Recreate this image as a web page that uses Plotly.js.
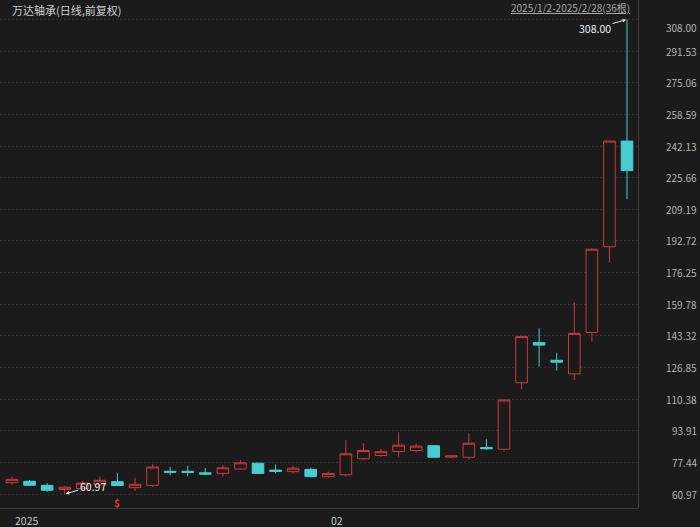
<!DOCTYPE html>
<html><head><meta charset="utf-8">
<script src="https://cdn.plot.ly/plotly-3.0.1.min.js"></script>
<style>html,body{margin:0;padding:0;background:#1b1b1b;}#chart{width:700px;height:527px;}</style>
</head><body><div id="chart"></div>
<script>
const dates = ['2025-01-02','2025-01-03','2025-01-06','2025-01-07','2025-01-08','2025-01-09','2025-01-10','2025-01-13','2025-01-14','2025-01-15','2025-01-16','2025-01-17','2025-01-20','2025-01-21','2025-01-22','2025-01-23','2025-01-24','2025-01-27',
'2025-02-05','2025-02-06','2025-02-07','2025-02-10','2025-02-11','2025-02-12','2025-02-13','2025-02-14','2025-02-17','2025-02-18','2025-02-19','2025-02-20','2025-02-21','2025-02-24','2025-02-25','2025-02-26','2025-02-27','2025-02-28'];
const openV  = [66.9,67.6,65.5,63.3,63.8,65.8,67.4,64.3,65.5,72.8,72.8,72.0,71.7,74.0,77.0,73.4,72.6,73.8,70.0,71.0,79.3,81.0,83.1,83.6,86.1,80.2,80.1,85.2,84.3,118.9,139.8,130.6,123.5,145.0,189.7,244.7];
const highV  = [70.0,68.2,66.6,65.2,67.8,70.0,71.8,69.5,76.4,75.0,75.6,74.5,76.0,78.7,77.2,76.4,75.6,74.6,72.6,89.1,87.4,84.6,93.1,87.3,86.2,81.2,92.6,89.4,110.2,143.3,147.2,134.5,160.6,188.8,245.0,308.0];
const lowV   = [65.7,65.3,62.1,60.97,62.8,65.0,65.3,62.5,64.6,70.7,70.3,70.9,70.0,73.5,71.5,71.7,71.5,69.6,69.3,70.0,78.8,80.4,80.4,82.6,80.0,79.6,79.0,84.0,83.0,115.5,127.3,125.2,120.3,140.3,181.4,214.4];
const closeV = [68.6,65.5,62.9,64.5,66.6,68.1,65.4,66.0,75.0,72.3,72.2,71.3,74.6,77.2,71.7,72.7,74.4,70.0,71.6,81.9,83.6,83.0,86.4,85.9,80.1,80.8,87.4,84.5,109.9,142.9,138.5,129.6,144.6,188.4,244.7,229.3];
const yTickLabels = ['60.97','77.44','93.91','110.38','126.85','143.32','159.78','176.25','192.72','209.19','225.66','242.13','258.59','275.06','291.53','308.00'];
const xLabelDates = ['2025-01-02','2025-02-05'];
const xLabelTexts = ['2025','02'];
const titleText = '万达轴承(日线,前复权)';
const rangeText = '2025/1/2-2025/2/28(36根)';
const signalDate = '2025-01-10';
const signalText = '$';

const BG = '#1b1b1b', RED = '#d0393e', CYAN = '#47cdd2';
const FONT = 'Noto Sans CJK SC, Noto Sans, sans-serif';
const tickVals = yTickLabels.map(parseFloat);

const hi = Math.max(...highV), lo = Math.min(...lowV);
const hiIdx = highV.indexOf(hi), loIdx = lowV.indexOf(lo);

const trace = {
  type: 'candlestick', x: dates, open: openV, high: highV, low: lowV, close: closeV,
  increasing: {line: {color: RED, width: 1}, fillcolor: BG},
  decreasing: {line: {color: CYAN, width: 1}, fillcolor: CYAN},
  whiskerwidth: 0, hoverinfo: 'x+y', showlegend: false
};

const anns = [];
yTickLabels.forEach((t, i) => {
  anns.push({xref: 'paper', x: 699/638, xanchor: 'right', yref: 'y', y: tickVals[i],
    yshift: i === yTickLabels.length - 1 ? -8 : 0,
    text: t, showarrow: false, font: {family: FONT, size: 10, color: '#b4b4b4'}});
});
xLabelDates.forEach((d, i) => {
  anns.push({xref: 'x', x: d, xanchor: 'left', xshift: 1, yref: 'paper', y: -12/508, yanchor: 'middle',
    text: xLabelTexts[i], showarrow: false, font: {family: FONT, size: 10.5, color: '#c8c8c8'}});
});
anns.push({xref: 'paper', x: 10/638, xanchor: 'left', yref: 'paper', y: 1 - 10/508, yanchor: 'middle',
  text: titleText, showarrow: false, font: {family: FONT, size: 11, color: '#cfcfcf'}});
anns.push({xref: 'paper', x: 632/638, xanchor: 'right', yref: 'paper', y: 1 - 8/508, yanchor: 'middle',
  text: '<u>' + rangeText + '</u>', showarrow: false, font: {family: FONT, size: 10, color: '#a8a8a8'}});
anns.push({xref: 'x', x: dates[hiIdx], yref: 'y', y: hi, text: hi.toFixed(2), showarrow: true,
  ax: -32, ay: 9, arrowhead: 2, arrowsize: 0.7, arrowwidth: 1, arrowcolor: '#e8e8e8', standoff: 1,
  font: {family: FONT, size: 10.5, color: '#f0f0f0'}});
anns.push({xref: 'x', x: dates[loIdx], yref: 'y', y: lo, text: lo.toFixed(2), showarrow: true,
  ax: 28, ay: -8, arrowhead: 2, arrowsize: 0.7, arrowwidth: 1, arrowcolor: '#e8e8e8', standoff: 1,
  font: {family: FONT, size: 10.5, color: '#f0f0f0'}});
anns.push({xref: 'x', x: signalDate, yref: 'paper', y: 6/508, yanchor: 'middle',
  text: '<b>' + signalText + '</b>', showarrow: false, font: {family: FONT, size: 10, color: '#e03a3a'}});

const layout = {
  width: 700, height: 527,
  margin: {l: 0, r: 62, t: 0, b: 19, pad: 0},
  paper_bgcolor: BG, plot_bgcolor: BG,
  boxgap: 0.34, boxgroupgap: 0,
  xaxis: {type: 'category', range: [-0.683, 35.626], showgrid: false, zeroline: false,
    showticklabels: false, ticks: '', showline: true, linecolor: '#3c3c3c', linewidth: 1,
    rangeslider: {visible: false}, fixedrange: true},
  yaxis: {side: 'right', range: [53.681, 318.152], tickvals: tickVals, showticklabels: false, ticks: '',
    showgrid: true, gridcolor: '#333333', griddash: '2px,2px', gridwidth: 1, zeroline: false,
    showline: true, linecolor: '#3c3c3c', linewidth: 1, fixedrange: true},
  annotations: anns,
  showlegend: false
};
Plotly.newPlot('chart', [trace], layout, {displayModeBar: false, staticPlot: true});
</script></body></html>
